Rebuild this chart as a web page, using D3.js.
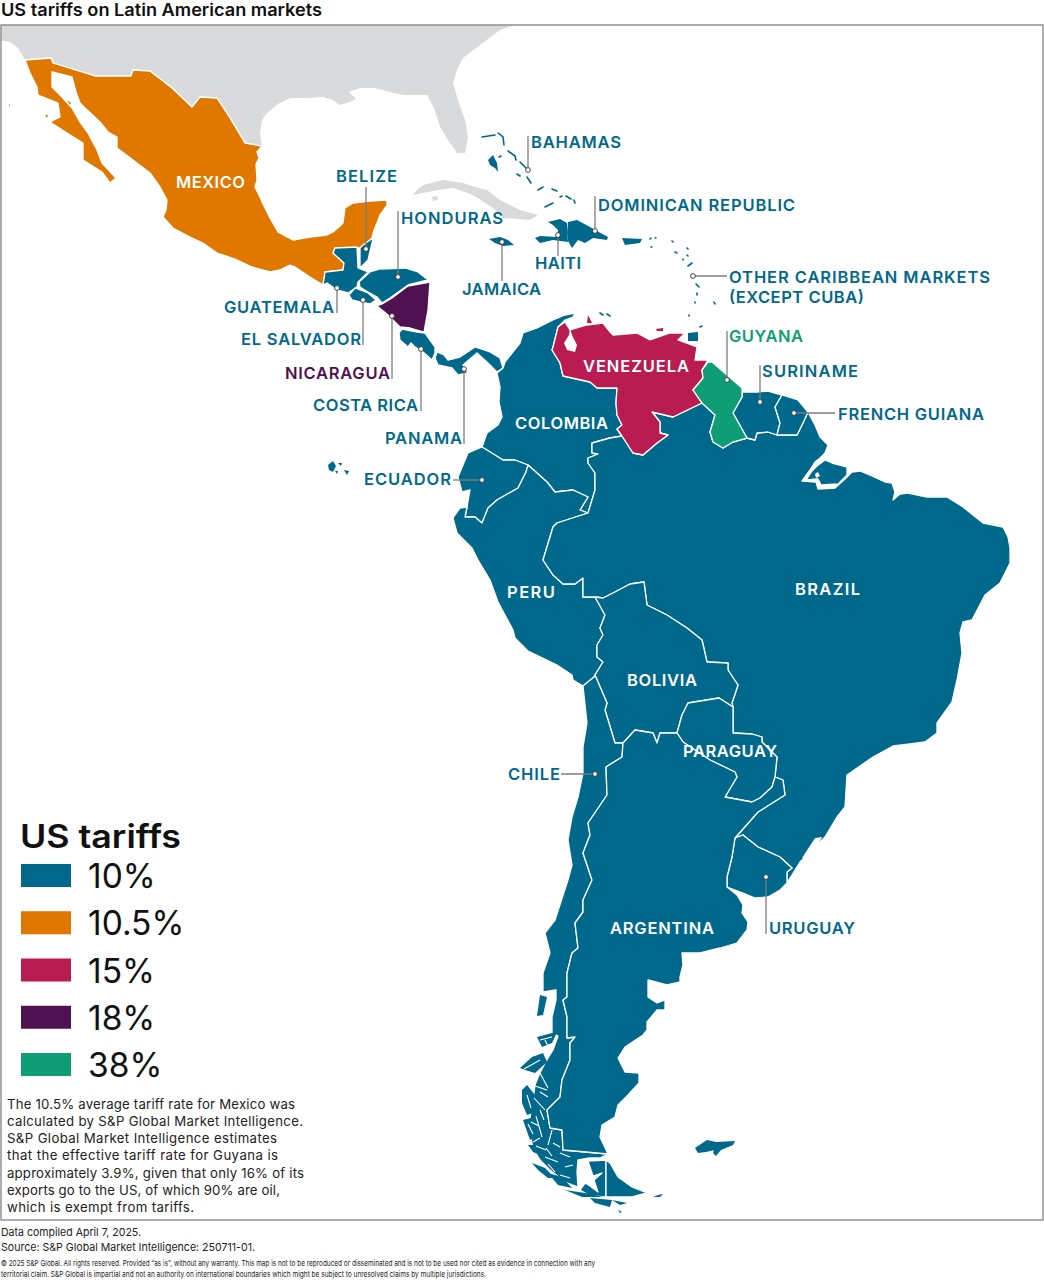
<!DOCTYPE html>
<html><head><meta charset="utf-8">
<script src="https://cdn.jsdelivr.net/npm/d3@7/dist/d3.min.js"></script>
<style>html,body{margin:0;background:#fff}svg{display:block}text{font-family:Inter,"Liberation Sans",sans-serif}</style>
</head><body><svg id="c" width="1044" height="1280"></svg>
<script>
// ---- Outlines, in map-grid units ----
const usa=[[0,25],[0,40],[10,42],[18,48],[25,60],[51,58],[53,63],[95,76],[131,76],[133,70],[150,71],[172,88],[192,107],[200,97],[217,98],[230,118],[245,143],[262,146],[260,133],[262,120],[267,113],[278,104],[290,98],[306,98],[323,97],[333,100],[340,105],[350,102],[356,99],[349,92],[360,88],[375,88],[390,92],[403,95],[427,95],[434,108],[437,117],[440,127],[448,140],[457,153],[465,153],[468,137],[465,120],[458,100],[453,83],[457,70],[463,58],[480,45],[500,30],[514,25]];
const cuba=[[413,195],[418,189],[423,185],[443,180],[463,183],[475,187],[487,190],[500,200],[520,210],[538,215],[530,220],[503,218],[493,208],[473,195],[453,188],[437,190],[423,193]];
const cubaIsle=[[432,197],[437,196],[438,200],[433,201]];
const mexico=[[25,60],[51,58],[53,63],[95,76],[131,76],[133,70],[150,71],[172,88],[192,107],[200,97],[217,98],[230,118],[245,143],[262,146],[257,152],[259,158],[256,164],[257,180],[255,187],[260,197],[262,202],[270,218],[278,232],[285,236],[293,240],[310,237],[327,235],[333,232],[340,226],[343,223],[345,208],[353,203],[370,201],[387,200],[387,205],[380,215],[377,223],[374,230],[372,238],[370,240],[360,248],[335,248],[333,253],[344,263],[343,270],[325,272],[323,285],[310,277],[295,267],[290,265],[280,270],[270,272],[252,267],[235,259],[217,253],[203,243],[190,237],[173,228],[163,217],[166,210],[167,200],[160,187],[150,173],[133,160],[117,148],[117,137],[108,132],[100,122],[85,108],[80,103],[76,92],[72,77],[52,72],[52,87],[62,97],[72,108],[80,122],[88,133],[97,150],[102,163],[116,178],[110,183],[102,172],[83,160],[83,143],[67,133],[50,122],[60,117],[58,103],[38,95],[37,87],[30,73]];
const guatemala=[[335,248],[357,247],[358,268],[368,272],[358,282],[357,287],[348,293],[337,290],[327,283],[323,285],[325,272],[343,270],[344,263],[333,253]];
const belize=[[360,248],[363,245],[370,240],[373,239],[368,260],[360,268]];
const honduras=[[359,282],[370,272],[380,269],[405,268],[418,272],[428,280],[408,285],[390,298],[382,303],[377,297],[368,292],[360,287]];
const elSalvador=[[349,295],[355,288],[368,293],[376,300],[370,304],[360,302],[352,300]];
const nicaragua=[[377,306],[382,304],[392,298],[408,286],[430,282],[428,310],[424,332],[410,328],[400,327],[388,315]];
const costaRica=[[399,333],[402,329],[417,332],[425,333],[435,347],[435,353],[432,360],[423,352],[415,347],[411,343],[408,347],[400,340]];
const panama=[[437,352],[444,355],[448,360],[460,357],[475,347],[490,352],[500,358],[503,368],[497,372],[488,363],[477,353],[463,365],[468,373],[458,375],[452,368],[438,365],[435,358]];
const colombia=[[503,368],[505,362],[520,343],[523,333],[537,328],[553,320],[565,315],[575,313],[573,317],[565,320],[558,327],[553,347],[552,350],[560,363],[563,376],[590,382],[597,388],[617,388],[616,403],[617,415],[622,425],[617,429],[622,436],[610,438],[592,443],[592,453],[598,454],[588,458],[588,463],[595,473],[595,490],[588,513],[580,510],[588,497],[573,490],[555,492],[547,482],[537,473],[528,465],[515,460],[503,460],[482,447],[487,433],[498,425],[502,417],[499,402],[500,387],[497,373]];
const ecuador=[[482,447],[468,453],[458,477],[462,492],[470,490],[467,507],[465,517],[475,517],[482,523],[488,508],[497,500],[518,488],[526,472],[528,465],[515,460],[503,460]];
const peru=[[460,508],[453,518],[457,533],[472,548],[478,560],[490,580],[498,602],[513,630],[515,638],[528,651],[557,665],[572,675],[573,680],[583,686],[594,677],[595,675],[603,662],[597,657],[597,645],[603,635],[600,628],[605,615],[595,597],[583,597],[583,578],[575,584],[563,584],[553,575],[543,560],[553,527],[557,523],[588,513],[580,510],[588,497],[573,490],[555,492],[547,482],[537,473],[528,465],[526,472],[518,488],[497,500],[488,508],[482,523],[475,517],[465,517],[467,507]];
const venezuela=[[552,350],[553,347],[558,327],[565,322],[570,330],[587,325],[603,323],[610,332],[613,335],[637,333],[650,340],[670,333],[685,333],[678,340],[697,347],[695,360],[708,360],[702,370],[703,378],[693,390],[702,403],[673,417],[652,412],[660,422],[660,433],[668,435],[657,443],[643,455],[633,453],[622,436],[617,429],[622,425],[617,415],[616,403],[617,388],[597,388],[590,382],[563,376],[560,363]];
const lakeMaracaibo=[[570,328],[572,335],[577,345],[575,352],[567,350],[564,343],[569,335]];
const guyana=[[708,362],[712,362],[727,375],[742,388],[742,397],[733,413],[747,438],[733,442],[723,448],[713,442],[710,432],[715,415],[702,403],[693,390],[703,378],[702,370]];
const suriname=[[742,392],[757,392],[768,391],[782,395],[775,407],[780,423],[777,435],[768,432],[757,433],[755,440],[747,438],[733,413],[742,397]];
const frenchGuiana=[[782,395],[798,400],[808,412],[803,423],[797,435],[787,435],[777,435],[780,423],[775,407]];
const brazil=[[808,412],[815,425],[820,437],[828,445],[825,453],[820,458],[815,462],[810,470],[802,481],[816,482],[818,489],[835,488],[845,479],[852,472],[860,471],[872,476],[885,482],[892,483],[895,492],[893,500],[900,494],[908,493],[927,497],[947,497],[963,507],[983,523],[993,525],[1003,527],[1008,537],[1010,548],[1010,563],[1000,583],[985,595],[972,620],[963,622],[960,633],[962,653],[957,680],[952,702],[937,723],[937,733],[925,742],[910,744],[893,746],[873,757],[847,775],[845,807],[837,817],[825,837],[800,862],[787,883],[787,872],[792,868],[780,857],[758,847],[743,835],[735,838],[758,812],[785,795],[783,780],[775,777],[777,757],[762,742],[762,737],[752,734],[733,733],[733,707],[732,703],[738,685],[728,670],[728,663],[707,662],[702,640],[687,628],[667,615],[647,605],[644,582],[630,584],[613,593],[603,598],[595,597],[583,597],[583,578],[575,584],[563,584],[553,575],[543,560],[553,527],[557,523],[588,513],[595,490],[595,473],[588,463],[588,458],[598,454],[592,453],[592,443],[610,438],[622,436],[633,453],[643,455],[657,443],[668,435],[660,433],[660,422],[652,412],[673,417],[702,403],[715,415],[710,432],[713,442],[723,448],[733,442],[747,438],[755,440],[757,433],[768,432],[777,435],[787,435],[797,435],[803,423]];
const marajo=[[806,480],[812,471],[817,466],[825,460],[832,463],[847,467],[847,475],[838,484],[821,485],[818,479]];
const bolivia=[[595,597],[603,598],[613,593],[630,584],[644,582],[647,605],[667,615],[687,628],[702,640],[707,662],[728,663],[728,670],[738,685],[732,703],[733,707],[719,698],[688,703],[682,715],[677,733],[660,733],[657,743],[653,733],[635,730],[623,743],[615,743],[605,710],[607,703],[595,675],[603,662],[597,657],[597,645],[603,635],[600,628],[605,615]];
const paraguay=[[733,707],[733,733],[752,734],[762,737],[762,742],[777,757],[775,777],[772,787],[760,798],[752,802],[725,797],[737,777],[735,772],[710,760],[683,742],[677,733],[682,715],[688,703],[719,698]];
const uruguay=[[735,838],[743,835],[758,847],[780,857],[792,868],[787,872],[787,883],[780,890],[768,897],[755,898],[743,893],[727,887],[727,877],[732,857]];
const argentina=[[623,743],[635,730],[653,733],[657,743],[660,733],[677,733],[683,742],[710,760],[735,772],[737,777],[725,797],[752,802],[760,798],[772,787],[775,777],[783,780],[785,795],[758,812],[735,838],[732,857],[727,877],[727,887],[737,895],[743,905],[742,913],[748,922],[747,930],[737,943],[720,948],[700,953],[682,953],[683,965],[680,977],[680,982],[667,985],[648,980],[648,997],[657,1003],[665,1000],[665,1010],[657,1010],[647,1022],[647,1030],[643,1035],[625,1047],[618,1058],[625,1072],[639,1073],[639,1083],[628,1095],[618,1105],[615,1117],[602,1125],[600,1137],[608,1154],[563,1150],[562,1130],[550,1128],[547,1110],[560,1097],[562,1080],[570,1060],[570,1043],[575,1037],[567,1038],[567,1017],[563,1000],[567,997],[567,973],[572,953],[578,948],[575,923],[583,912],[583,900],[592,880],[583,853],[590,835],[588,823],[607,795],[606,767],[622,757]];
const fuegoArgentina=[[606,1160],[610,1163],[618,1177],[632,1187],[647,1193],[632,1197],[606,1197]];
const chile=[[583,686],[594,677],[595,675],[607,703],[605,710],[615,743],[623,743],[622,757],[606,767],[607,795],[588,823],[590,835],[583,853],[592,880],[583,900],[583,912],[575,923],[578,948],[572,953],[567,973],[567,997],[563,1000],[567,1017],[567,1038],[575,1037],[570,1043],[570,1060],[562,1080],[560,1097],[547,1110],[550,1128],[562,1130],[563,1150],[608,1154],[600,1158],[590,1158],[578,1160],[577,1172],[578,1187],[565,1182],[550,1170],[540,1160],[533,1148],[530,1135],[530,1118],[533,1100],[535,1085],[539,1075],[545,1063],[553,1050],[558,1036],[552,1033],[552,1017],[556,1000],[556,990],[543,992],[543,973],[550,953],[545,933],[555,920],[568,880],[572,865],[568,840],[572,817],[578,797],[583,773],[583,747],[587,723]];
const fuegoChile=[[606,1160],[606,1197],[590,1196],[580,1190],[585,1183],[590,1186],[598,1192],[594,1180],[602,1173],[593,1176],[588,1161]];
const chileIslands=[[[540,995],[547,997],[543,1015],[537,1016]],[[537,1037],[552,1033],[557,1032],[552,1043],[542,1047]],[[520,1068],[532,1057],[543,1053],[547,1062],[535,1073],[525,1070]],[[522,1090],[527,1085],[535,1095],[533,1113],[527,1115],[522,1103]],[[523,1120],[531,1118],[534,1137],[530,1140]],[[528,1145],[536,1145],[540,1155],[533,1152]],[[532,1163],[545,1168],[555,1178],[548,1178],[538,1170]],[[548,1173],[562,1177],[572,1188],[558,1185]],[[565,1190],[585,1193],[603,1197],[582,1197]],[[590,1198],[612,1200],[610,1207],[595,1203]],[[612,1200],[627,1203],[620,1205]],[[618,1210],[622,1212],[620,1213]]];
const chileSlits=[[[540,1073],[548,1088]],[[535,1086],[547,1090]],[[534,1098],[545,1110]],[[536,1116],[542,1137]],[[552,1130],[548,1145]],[[553,1143],[560,1147]],[[545,1157],[558,1162]],[[560,1153],[570,1157]],[[565,1167],[573,1165]],[[527,1095],[531,1108]],[[528,1124],[533,1134]],[[536,1146],[546,1150]],[[524,1069],[540,1060]],[[540,1040],[552,1037]],[[560,1175],[570,1178]],[[545,1040],[548,1046]],[[531,1122],[539,1126]],[[544,1120],[540,1110]],[[548,1097],[540,1092]],[[552,1156],[546,1148]],[[533,1142],[540,1138]],[[555,1172],[548,1164]]];
const statenIsland=[[653,1197],[658,1195],[663,1194],[660,1197]];
const falklands=[[[695,1148],[707,1140],[716,1142],[714,1150],[706,1152],[698,1153]],[[716,1142],[735,1141],[733,1145],[721,1150],[716,1156],[713,1153]]];
const jamaica=[[489,239],[500,237],[508,240],[514,245],[503,246],[495,243]];
const haiti=[[548,222],[560,219],[567,223],[567,233],[568,242],[553,240],[540,243],[535,238],[540,236],[557,237],[558,230],[553,225]];
const dominican=[[568,222],[577,220],[590,227],[595,230],[608,237],[607,240],[593,238],[585,243],[578,240],[572,248],[568,241],[567,233]];
const puertoRico=[[622,238],[642,239],[640,243],[625,245]];
const trinidad=[[688,333],[698,332],[698,341],[688,341]];
const andros=[[488,160],[493,155],[497,163],[498,172],[495,168],[490,165]];
const bahamaStrokes=[[[482,137],[495,135]],[[498,133],[503,137],[504,145]],[[508,151],[515,156],[516,160]],[[520,162],[526,168]],[[517,174],[520,176]],[[527,177],[531,183]],[[538,190],[543,187]],[[552,189],[557,191]],[[545,207],[553,203]],[[560,197],[562,196]],[[566,196],[571,199]],[[574,200],[575,203]],[[499,157],[501,156]]];
const antillesStrokes=[[[650,239],[651,238]],[[655,238],[656,238]],[[651,247],[652,247]],[[672,241],[673,242]],[[675,252],[677,253]],[[683,259],[683,260]],[[687,248],[688,249]],[[687,255],[688,256]],[[688,266],[692,263]],[[696,284],[699,287]],[[697,293],[697,295]],[[695,302],[695,303]],[[714,302],[715,304]],[[689,315],[689,316]],[[700,327],[702,326]]];
const dutchStrokes=[[[600,313],[603,315]],[[607,314],[610,316]]];
const venezuelaIslands=[[[587,323],[588,315],[592,323]],[[656,329],[663,328],[663,331],[657,331]]];
const galapagos=[[[328,465],[333,461],[336,466],[333,472],[329,470]],[[338,463],[342,463],[341,466]],[[344,470],[349,471],[347,475]],[[335,471],[338,471],[337,474]]];
const mexicoIslands=[[[9,104],[10,105],[10,108]],[[45,115],[48,115],[47,118]],[[67,100],[71,103],[70,105]]];
const patosLagoon=[[802,858],[815,838],[822,837],[817,847],[805,858]];
const deltaHole=[[815,474],[818,472],[820,476],[816,478]];

// ---- Categories ----
const tiers=["10%","10.5%","15%","18%","38%"];
const tierColors=["#00688a","#e07800","#b81c50","#4f1150","#0f9d76"];
const otherLand="#d9dadc";
const labelNames=["MEXICO","BELIZE","HONDURAS","BAHAMAS","DOMINICAN REPUBLIC","HAITI","JAMAICA","OTHER CARIBBEAN MARKETS","(EXCEPT CUBA)","GUYANA","SURINAME","FRENCH GUIANA","VENEZUELA","COLOMBIA","ECUADOR","GUATEMALA","EL SALVADOR","NICARAGUA","COSTA RICA","PANAMA","PERU","BRAZIL","BOLIVIA","PARAGUAY","CHILE","ARGENTINA","URUGUAY"];
const noteLines=["The 10.5% average tariff rate for Mexico was","calculated by S&P Global Market Intelligence.","S&P Global Market Intelligence estimates","that the effective tariff rate for Guyana is","approximately 3.9%, given that only 16% of its","exports go to the US, of which 90% are oil,","which is exempt from tariffs."];
const sourceLines=["Data compiled April 7, 2025.","Source: S&P Global Market Intelligence: 250711-01."];
const legalLines=["© 2025 S&P Global. All rights reserved. Provided “as is”, without any warranty. This map is not to be reproduced or disseminated and is not to be used nor cited as evidence in connection with any","territorial claim. S&P Global is impartial and not an authority on international boundaries which might be subject to unresolved claims by multiple jurisdictions."];

const closeRing=r=>r.concat([r[0]]);
const poly=r=>({type:"Polygon",coordinates:[closeRing(r)]});
const multi=rs=>({type:"MultiPolygon",coordinates:rs.map(r=>[closeRing(r)])});
const lines=ls=>({type:"MultiLineString",coordinates:ls});
const countries=[
 [mexico,"10.5%"],[guatemala,"10%"],[belize,"10%"],[honduras,"10%"],[elSalvador,"10%"],[costaRica,"10%"],[panama,"10%"],
 [colombia,"10%"],[ecuador,"10%"],[peru,"10%"],[brazil,"10%"],[bolivia,"10%"],[paraguay,"10%"],[uruguay,"10%"],[chile,"10%"],[argentina,"10%"],
 [fuegoChile,"10%"],[fuegoArgentina,"10%"],[marajo,"10%"],[suriname,"10%"],[frenchGuiana,"10%"],
 [nicaragua,"18%"],[venezuela,"15%"],[guyana,"38%"]
];
const islands=[[jamaica,"10%"],[haiti,"10%"],[dominican,"10%"],[puertoRico,"10%"],[trinidad,"10%"],[andros,"10%"],[statenIsland,"10%"]];
const color=d3.scaleOrdinal(tiers,tierColors);

const svg=d3.select("#c");
const path=d3.geoPath(d3.geoIdentity());
svg.append("defs").append("clipPath").attr("id","fr").append("rect").attr("x",1).attr("y",25).attr("width",1042).attr("height",1195);
const map=svg.append("g").attr("clip-path","url(#fr)");

map.selectAll(".gray").data([usa,cuba,cubaIsle]).join("path").attr("d",d=>path(poly(d))).attr("fill",otherLand);
map.append("path").attr("d",path(lines([usa.slice(4,18)]))).attr("fill","none").attr("stroke","#fff").attr("stroke-width",1.2);
map.selectAll(".c").data(countries).join("path").attr("d",d=>path(poly(d[0]))).attr("fill",d=>color(d[1])).attr("stroke","#fff").attr("stroke-width",1.3).attr("stroke-linejoin","round");
map.selectAll(".i").data(islands).join("path").attr("d",d=>path(poly(d[0]))).attr("fill",d=>color(d[1]));
[[multi(chileIslands),"10%"],[multi(falklands),"10%"],[multi(galapagos),"10%"],[multi(venezuelaIslands),"15%"],[multi(mexicoIslands),"10.5%"]].forEach(([g,t])=>map.append("path").attr("d",path(g)).attr("fill",color(t)));
map.append("path").attr("d",path(poly(lakeMaracaibo))).attr("fill","#fff");
map.append("path").attr("d",path(lines(chileSlits))).attr("fill","none").attr("stroke","#fff").attr("stroke-width",1.1);
map.append("path").attr("d",path(lines([...bahamaStrokes,...antillesStrokes,...dutchStrokes]))).attr("fill","none").attr("stroke",color("10%")).attr("stroke-width",1.6).attr("stroke-linecap","round");
map.append("path").attr("d",path(poly(patosLagoon))).attr("fill","#fff");
map.append("path").attr("d",path(poly(deltaHole))).attr("fill","#fff");

svg.append("rect").attr("x",1).attr("y",25).attr("width",1042).attr("height",1195).attr("fill","none").attr("stroke","#8a8a8a").attr("stroke-width",1.4);

svg.append("text").attr("x",1).attr("y",16).attr("font-size",17).attr("font-weight",600).attr("textLength",321).attr("lengthAdjust","spacingAndGlyphs").attr("fill","#111").text("US tariffs on Latin American markets");

const leaderEnds=[[366,249,366,187],[398,277,398,211],[337,288,337,313],[363,300,363,345],[392,316,392,379],[421,349,421,411],[464,369,464,444],[528,170,528,136],[595,231,595,196],[558,235,558,256],[502,242,502,281],[693,276,727,276],[727,380,727,331],[760,402,760,365],[794,413,835,413],[482,480,453,480],[595,774,561,774],[766,877,766,934]];
svg.selectAll(".l").data(leaderEnds).join("line").attr("x1",d=>d[0]).attr("y1",d=>d[1]).attr("x2",d=>d[2]).attr("y2",d=>d[3]).attr("stroke","#7d7d7d").attr("stroke-width",1.3);
svg.selectAll(".d").data(leaderEnds).join("circle").attr("cx",d=>d[0]).attr("cy",d=>d[1]).attr("r",2.4).attr("fill","#fff").attr("stroke","#333").attr("stroke-width",.9);

const T=tierColors[0],W="#fff";
const labelBoxes=[[176,245,188,W],[336,397,182,T],[401,503,224,T],[531,621,148,T],[598,795,211,T],[535,581,269,T],[462,541,295,T],[729,990,283,T],[729,864,303,T],[729,803,342,tierColors[4]],[762,858,377,T],[838,984,420,T],[583,689,372,W],[515,608,429,W],[364,451,485,T],[224,334,313,T],[241,361,345,T],[285,390,379,tierColors[3]],[313,418,411,T],[385,462,444,T],[507,555,598,W],[795,860,595,W],[627,697,686,W],[683,777,757,W],[508,560,780,T],[610,714,934,W],[769,855,934,T]];
svg.selectAll(".t").data(labelNames).join("text").attr("x",(d,i)=>labelBoxes[i][0]).attr("y",(d,i)=>labelBoxes[i][2]).attr("textLength",(d,i)=>labelBoxes[i][1]-labelBoxes[i][0]).attr("fill",(d,i)=>labelBoxes[i][3]).attr("font-size",16.5).attr("font-weight",600).text(d=>d);

const ly=d3.scalePoint().domain(tiers).range([864,1053]);
svg.append("text").attr("x",20).attr("y",848).attr("font-size",32).attr("font-weight",600).attr("fill","#111").attr("textLength",161).attr("lengthAdjust","spacingAndGlyphs").text("US tariffs");
const lg=svg.selectAll(".lg").data(tiers).join("g");
lg.append("rect").attr("x",21).attr("y",d=>ly(d)).attr("width",50).attr("height",23).attr("fill",d=>color(d));
lg.append("text").attr("x",88).attr("y",d=>ly(d)+24).attr("font-size",33.5).attr("font-weight",400).attr("fill","#111").text(d=>d);

const noteW=[288,296,270,271,297,273,187];
svg.selectAll(".n").data(noteLines).join("text").attr("x",7).attr("y",(d,i)=>1108.5+i*17.3).attr("font-size",13.2).attr("fill","#222").attr("textLength",(d,i)=>noteW[i]).text(d=>d);
const sourceW=[140,254];
svg.selectAll(".s").data(sourceLines).join("text").attr("x",1).attr("y",(d,i)=>1236+i*15).attr("font-size",11).attr("fill","#222").attr("textLength",(d,i)=>sourceW[i]).attr("lengthAdjust","spacingAndGlyphs").text(d=>d);
const legalW=[594,485];
svg.selectAll(".z").data(legalLines).join("text").attr("x",1).attr("y",(d,i)=>1266+i*11).attr("font-size",8).attr("fill","#222").attr("textLength",(d,i)=>legalW[i]).attr("lengthAdjust","spacingAndGlyphs").text(d=>d);
</script></body></html>
